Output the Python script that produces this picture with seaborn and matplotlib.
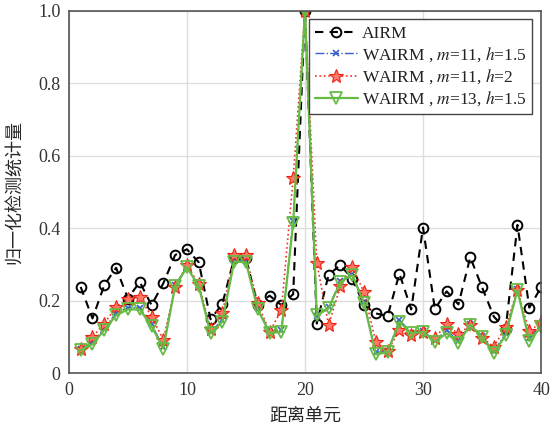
import numpy as np
import pandas as pd
import matplotlib
matplotlib.use("Agg")
import matplotlib.pyplot as plt
import seaborn as sns

cells = list(range(1, 41))

airm = [0.238, 0.151, 0.243, 0.291, 0.206, 0.252, 0.188, 0.248, 0.326, 0.342,
        0.306, 0.149, 0.191, 0.317, 0.317, 0.188, 0.214, 0.188, 0.218, 1.000,
        0.137, 0.272, 0.298, 0.261, 0.188, 0.165, 0.158, 0.275, 0.176, 0.402,
        0.177, 0.226, 0.190, 0.320, 0.237, 0.156, 0.122, 0.409, 0.181, 0.237]

wairm_m11_h15 = [0.066, 0.085, 0.124, 0.166, 0.181, 0.181, 0.135, 0.072, 0.243, 0.294,
                 0.243, 0.114, 0.147, 0.312, 0.310, 0.181, 0.113, 0.118, 0.420, 1.000,
                 0.158, 0.182, 0.255, 0.275, 0.196, 0.058, 0.060, 0.147, 0.112, 0.116,
                 0.091, 0.118, 0.090, 0.135, 0.102, 0.060, 0.110, 0.231, 0.096, 0.133]

wairm_m11_h2 = [0.068, 0.100, 0.137, 0.183, 0.204, 0.211, 0.156, 0.093, 0.238, 0.298,
                0.245, 0.123, 0.165, 0.326, 0.326, 0.193, 0.114, 0.174, 0.538, 1.000,
                0.305, 0.133, 0.240, 0.294, 0.223, 0.087, 0.061, 0.119, 0.105, 0.114,
                0.096, 0.137, 0.107, 0.133, 0.098, 0.073, 0.128, 0.229, 0.116, 0.140]

wairm_m13_h15 = [0.064, 0.080, 0.119, 0.160, 0.176, 0.176, 0.130, 0.068, 0.240, 0.292,
                 0.240, 0.110, 0.142, 0.308, 0.306, 0.176, 0.111, 0.114, 0.415, 1.000,
                 0.160, 0.179, 0.252, 0.271, 0.193, 0.052, 0.058, 0.142, 0.110, 0.114,
                 0.087, 0.110, 0.084, 0.133, 0.100, 0.056, 0.105, 0.229, 0.089, 0.128]

x_ticks = [0, 10, 20, 30, 40]
y_ticks = [0, 0.2, 0.4, 0.6, 0.8, 1.0]
y_ticklabels = ["0", "0.2", "0.4", "0.6", "0.8", "1.0"]

sns.set_theme(style="whitegrid")
plt.rcParams["font.family"] = ["Liberation Serif", "Noto Sans CJK SC"]
plt.rcParams["mathtext.fontset"] = "stix"

fig = plt.figure(figsize=(5.51, 4.29), dpi=100)
ax = fig.add_axes([0.125, 0.13, 0.857, 0.845])

series = [
    (airm, "AIRM", dict(color="black", linestyle=(0, (4, 3)), linewidth=1.5,
                        marker="o", markersize=7, markerfacecolor="none",
                        markeredgecolor="black", markeredgewidth=1.4)),
    (wairm_m11_h15, "WAIRM , $m$=11, $h$=1.5",
     dict(color="#3a5fc8", linestyle="-.", linewidth=1.0, marker="x",
          markersize=5, markeredgecolor="#3a5fc8", markeredgewidth=1.2)),
    (wairm_m11_h2, "WAIRM , $m$=11, $h$=2",
     dict(color="#ee3322", linestyle=":", linewidth=1.2, marker="*",
          markersize=10, markerfacecolor="#ff7766", markeredgecolor="#ee2211",
          markeredgewidth=0.8)),
    (wairm_m13_h15, "WAIRM , $m$=13, $h$=1.5",
     dict(color="#66bb44", linestyle="-", linewidth=1.6, marker="v",
          markersize=8, markerfacecolor="none", markeredgecolor="#66bb44",
          markeredgewidth=1.3)),
]

for values, label, style in series:
    df = pd.DataFrame({"cell": cells, "stat": values})
    sns.lineplot(data=df, x="cell", y="stat", ax=ax, label=label, **style)

ax.set_xlim(0, 40)
ax.set_ylim(0, 1.0)
ax.set_xticks(x_ticks)
ax.set_yticks(y_ticks)
ax.set_yticklabels(y_ticklabels)
ax.tick_params(labelsize=13, colors="#333333", length=0, pad=6)
ax.grid(True, color="#dddddd", linewidth=1.0)
for sp in ax.spines.values():
    sp.set_color("#555555")
    sp.set_linewidth(1.2)

ax.set_xlabel("距离单元", fontsize=13, family=["Noto Sans CJK SC"], labelpad=6)
ax.set_ylabel("归一化检测统计量", fontsize=13, family=["Noto Sans CJK SC"], labelpad=10)

leg = ax.legend(loc="upper right", fontsize=12.5, frameon=True, fancybox=False,
                edgecolor="#444444", framealpha=1, handlelength=2.5,
                handletextpad=0.2, borderpad=0.35, labelspacing=0.2,
                borderaxespad=0.5)
leg.get_frame().set_linewidth(1.0)
for t in leg.get_texts():
    t.set_color("#222222")

fig.savefig("out.png", dpi=100)
